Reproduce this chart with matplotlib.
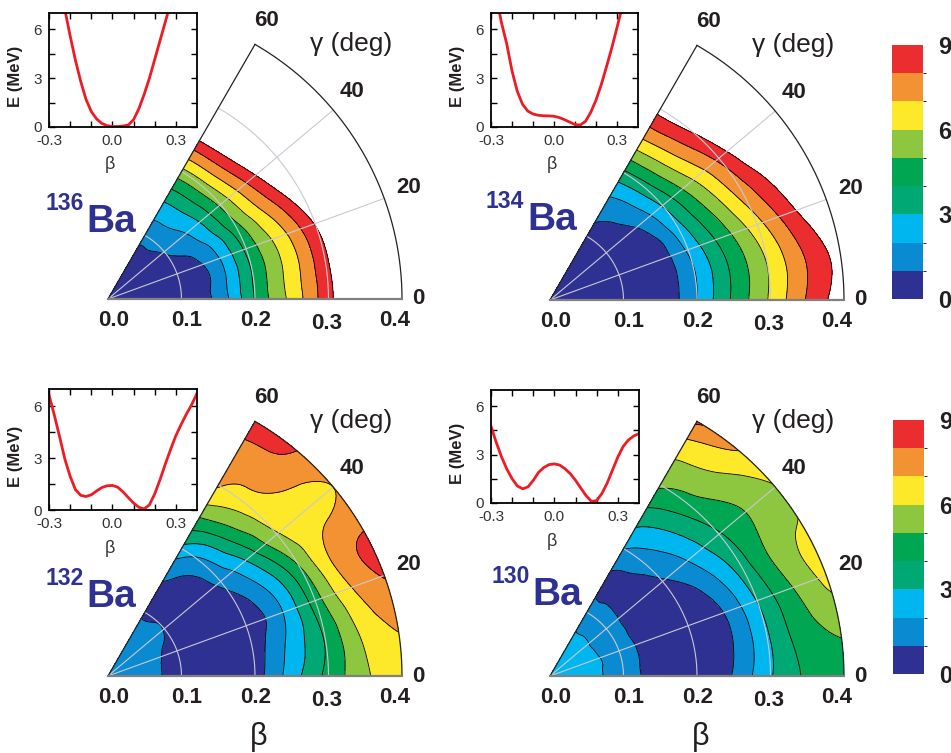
import numpy as np
import matplotlib.pyplot as plt
import matplotlib.tri as mtri
from matplotlib.colors import ListedColormap, BoundaryNorm
from matplotlib.cm import ScalarMappable

plt.rcParams['font.family'] = ['Liberation Sans', 'DejaVu Sans']

W, H = 951, 753
S = 735.0  # pixels per unit of beta in the big wedges

# potential energy surfaces E(beta, gamma) in MeV, one row per gamma
beta_grid = [0.0, 0.05, 0.10, 0.15, 0.20, 0.25, 0.30, 0.35, 0.40]
gamma_grid = [0, 10, 20, 30, 40, 50, 60]

E_136 = [
    [0, 0.03, 0.30, 1.30, 4.05, 6.30, 8.70, 11.0, 13.5],
    [0, 0.03, 0.32, 1.33, 4.08, 6.36, 8.78, 11.1, 13.6],
    [0, 0.05, 0.41, 1.46, 4.22, 6.58, 9.08, 11.5, 14.1],
    [0, 0.12, 0.74, 1.94, 4.71, 7.42, 10.2, 13.0, 15.9],
    [0, 0.18, 1.07, 2.42, 5.21, 8.26, 11.4, 14.5, 17.7],
    [0, 0.23, 1.32, 2.79, 5.58, 8.90, 12.2, 15.65, 19.1],
    [0, 0.25, 1.40, 2.90, 5.70, 9.10, 12.5, 16.0, 19.5],
]
E_134 = [
    [0.6, 0.35, 0.05, 0.30, 2.00, 4.20, 6.15, 8.10, 9.60],
    [0.6, 0.34, 0.03, 0.26, 1.95, 4.12, 6.05, 7.98, 9.45],
    [0.6, 0.33, 0.02, 0.25, 2.18, 4.47, 6.64, 8.75, 10.6],
    [0.6, 0.38, 0.12, 0.38, 2.63, 5.13, 7.50, 9.60, 11.9],
    [0.6, 0.50, 0.42, 0.91, 3.08, 5.79, 8.26, 10.83, 13.0],
    [0.6, 0.59, 0.65, 1.31, 3.57, 6.51, 9.08, 11.65, 14.06],
    [0.6, 0.65, 0.80, 1.60, 3.80, 6.85, 9.40, 12.0, 14.5],
]
E_132 = [
    [1.5, 1.35, 0.50, 0.05, 0.60, 2.50, 4.30, 5.80, 6.90],
    [1.5, 1.33, 0.55, 0.05, 0.50, 2.20, 4.10, 6.15, 7.10],
    [1.5, 1.32, 0.65, 0.05, 0.35, 1.85, 4.50, 6.90, 8.06],
    [1.5, 1.30, 0.80, 0.10, 0.60, 2.30, 5.00, 7.25, 7.95],
    [1.5, 1.30, 0.97, 0.40, 1.25, 3.30, 5.90, 6.60, 7.00],
    [1.5, 1.33, 0.95, 0.70, 1.70, 4.30, 6.40, 7.40, 8.00],
    [1.5, 1.35, 0.92, 1.02, 2.70, 5.05, 7.10, 7.55, 8.90],
]
E_130 = [
    [2.3, 2.25, 1.50, 0.50, 0.10, 1.10, 2.90, 4.15, 4.60],
    [2.3, 2.25, 1.50, 0.50, 0.10, 0.90, 2.85, 4.50, 5.25],
    [2.3, 2.25, 1.50, 0.50, 0.15, 0.95, 3.05, 4.95, 6.30],
    [2.3, 2.20, 1.45, 0.45, 0.30, 1.50, 3.50, 5.30, 6.15],
    [2.3, 2.20, 1.45, 0.60, 0.90, 2.20, 3.90, 5.05, 5.95],
    [2.3, 2.20, 1.48, 0.75, 1.40, 2.80, 4.50, 5.75, 7.00],
    [2.3, 2.20, 1.50, 0.80, 2.05, 3.50, 5.15, 6.25, 8.20],
]

# 1D curves in the insets (negative beta = gamma 60 side)
inset_beta = [-0.300, -0.275, -0.250, -0.225, -0.200, -0.175, -0.150, -0.125,
              -0.100, -0.075, -0.050, -0.025, 0.000, 0.025, 0.050, 0.075,
              0.100, 0.125, 0.150, 0.175, 0.200, 0.225, 0.250, 0.275,
              0.300, 0.325, 0.350, 0.375, 0.400]
curve_136 = [12.5, 10.6, 8.8, 7.2, 5.6, 4.1, 2.8, 1.7, 0.95, 0.5, 0.22, 0.08,
             0.03, 0.03, 0.06, 0.12, 0.45, 1.12, 2.0, 3.0, 4.15, 5.3, 6.45,
             7.6, 8.8, 10.0, 11.2, 12.4, 13.6]
curve_134 = [10.5, 8.0, 6.4, 5.1, 3.45, 2.2, 1.4, 0.98, 0.8, 0.72, 0.69, 0.68,
             0.66, 0.58, 0.45, 0.3, 0.15, 0.12, 0.35, 0.9, 1.65, 2.6, 3.7,
             4.85, 6.1, 7.4, 8.7, 10.0, 11.3]
curve_132 = [6.65, 5.5, 4.25, 2.95, 1.95, 1.18, 0.85, 0.78, 0.88, 1.1, 1.3, 1.4,
             1.42, 1.32, 1.05, 0.72, 0.4, 0.16, 0.06, 0.3, 0.93, 1.75, 2.65,
             3.5, 4.3, 4.95, 5.55, 6.1, 6.75]
curve_130 = [4.75, 3.75, 2.85, 2.1, 1.5, 1.05, 0.88, 1.0, 1.4, 1.9, 2.2, 2.38,
             2.42, 2.35, 2.12, 1.82, 1.4, 0.92, 0.45, 0.1, 0.15, 0.6, 1.25,
             2.05, 2.85, 3.5, 3.9, 4.15, 4.3]

levels = [0, 1, 2, 3, 4, 5, 6, 7, 8, 9]
colors = ['#2e3192', '#0a8ad0', '#00b6ee', '#00a874', '#00a651',
          '#8dc63f', '#fde82a', '#f39232', '#ec2d2f']
blue = '#2e3192'

beta_ticks = [0.0, 0.1, 0.2, 0.3, 0.4]
beta_tick_x = [0.008, 0.107, 0.201, 0.298, 0.390]
gamma_ticks = [0, 20, 40, 60]


def rect_px(l, t, r, b):
    return [l / W, 1 - b / H, (r - l) / W, (b - t) / H]


fig = plt.figure(figsize=(W / 100, H / 100), dpi=100)


def draw_wedge(ox, oy, E, mass, ba_xy, sup_xy, bottom_label):
    ax = fig.add_axes(rect_px(ox - 0.15 * S, oy - 0.44 * S, ox + 0.45 * S, oy + 0.08 * S))
    ax.set_xlim(-0.15, 0.45)
    ax.set_ylim(-0.08, 0.44)
    ax.axis('off')

    b, g = np.meshgrid(beta_grid, gamma_grid)
    z = np.array(E, dtype=float).ravel()
    tri = mtri.Triangulation(b.ravel(), g.ravel() / 150.0)
    interp = mtri.CubicTriInterpolator(tri, z, kind='min_E')
    tri_f, z_f = mtri.UniformTriRefiner(tri).refine_field(z, triinterpolator=interp, subdiv=4)
    gam = np.radians(tri_f.y * 150.0)
    xy = mtri.Triangulation(tri_f.x * np.cos(gam), tri_f.x * np.sin(gam), tri_f.triangles)

    fill_levels = [-5] + levels[1:]
    ax.tricontourf(xy, z_f, levels=fill_levels, colors=colors, zorder=1)
    ax.tricontour(xy, z_f, levels=levels[1:], colors='k', linewidths=0.6, zorder=2)

    t = np.radians(np.linspace(0, 60, 200))
    for r in [0.1, 0.2, 0.3]:
        ax.plot(r * np.cos(t), r * np.sin(t), color='#c9c9d3', lw=0.8, zorder=3)
    for gd in [20, 40]:
        a = np.radians(gd)
        ax.plot([0, 0.4 * np.cos(a)], [0, 0.4 * np.sin(a)], color='#c9c9d3', lw=0.8, zorder=3)
    ax.plot(0.4 * np.cos(t), 0.4 * np.sin(t), color='#222222', lw=0.9, zorder=4)
    ax.plot([0, 0.4 * np.cos(np.pi / 3)], [0, 0.4 * np.sin(np.pi / 3)], color='#222222', lw=0.9, zorder=4)
    ax.plot([0, 0.4], [0, 0], color='#808080', lw=1.6, zorder=4)

    for bt, bx in zip(beta_ticks, beta_tick_x):
        yy = -0.034 if bt == 0.3 else -0.029
        ax.text(bx, yy, f'{bt:.1f}', ha='center', va='center',
                fontsize=16, fontweight='bold', color='#231f20')
    for gd in gamma_ticks:
        r = 0.422 if gd == 0 else 0.436
        a = np.radians(gd + (0.4 if gd else 0))
        ax.text(r * np.cos(a), r * np.sin(a), str(gd), ha='center', va='center',
                fontsize=16, fontweight='bold', color='#231f20')
    ax.text(0.275, 0.347, 'γ (deg)', ha='left', va='center', fontsize=19, color='#231f20')

    ax.text(ba_xy[0], ba_xy[1], 'Ba', ha='left', va='baseline',
            fontsize=28, fontweight='bold', color=blue)
    ax.text(sup_xy[0], sup_xy[1], mass, ha='right', va='baseline',
            fontsize=16.5, fontweight='bold', color=blue)
    if bottom_label:
        ax.text(0.205, -0.083, 'β', ha='center', va='center', fontsize=22, color='#231f20')


def draw_inset(rect, curve, blab_xy):
    ax = fig.add_axes(rect_px(*rect))
    ax.plot(inset_beta, curve, color='#ed1c24', lw=2)
    ax.set_xlim(-0.3, 0.4)
    ax.set_ylim(0, 7)
    ax.set_xticks([-0.3, 0.0, 0.3])
    ax.set_xticklabels(['-0.3', '0.0', '0.3'])
    ax.set_xticks([-0.2, -0.1, 0.1, 0.2], minor=True)
    ax.set_yticks([0, 3, 6])
    ax.set_yticks([1.5, 4.5], minor=True)
    ax.tick_params(which='both', direction='in', top=True, right=True,
                   length=4, width=1.0, labelsize=11, labelcolor='#333333')
    ax.tick_params(axis='x', pad=5)
    ax.tick_params(axis='y', pad=5)
    for sp in ax.spines.values():
        sp.set_linewidth(1.3)
    ax.text(blab_xy[0], blab_xy[1], 'β', transform=ax.transAxes,
            ha='center', va='center', fontsize=13, color='#333333')
    ax.text(-0.225, 0.44, 'E (MeV)', transform=ax.transAxes, rotation=90,
            ha='center', va='center', fontsize=12, fontweight='bold', color='#231f20')


draw_wedge(108, 299, E_136, '136', (-0.030, 0.091), (-0.033, 0.121), False)
draw_wedge(550, 300, E_134, '134', (-0.031, 0.095), (-0.036, 0.125), False)
draw_wedge(108, 676, E_132, '132', (-0.030, 0.094), (-0.033, 0.124), True)
draw_wedge(550, 676, E_130, '130', (-0.0245, 0.097), (-0.028, 0.127), True)

draw_inset((49, 13, 197, 127), curve_136, (0.41, -0.333))
draw_inset((491, 13, 638, 127), curve_134, (0.415, -0.333))
draw_inset((49, 389, 197, 510), curve_132, (0.41, -0.32))
draw_inset((491, 390, 639, 503), curve_130, (0.41, -0.345))

cmap = ListedColormap(colors)
norm = BoundaryNorm(levels, cmap.N)
for rect in [(892, 45, 923, 299), (893, 420, 924, 674)]:
    cax = fig.add_axes(rect_px(*rect))
    cb = fig.colorbar(ScalarMappable(norm=norm, cmap=cmap), cax=cax, ticks=[0, 3, 6, 9])
    cb.outline.set_visible(False)
    cax.tick_params(length=0, pad=11, labelsize=17)
    for lab in cax.get_yticklabels():
        lab.set_fontweight('bold')
        lab.set_color('#231f20')

fig.savefig('out.png', dpi=100)
